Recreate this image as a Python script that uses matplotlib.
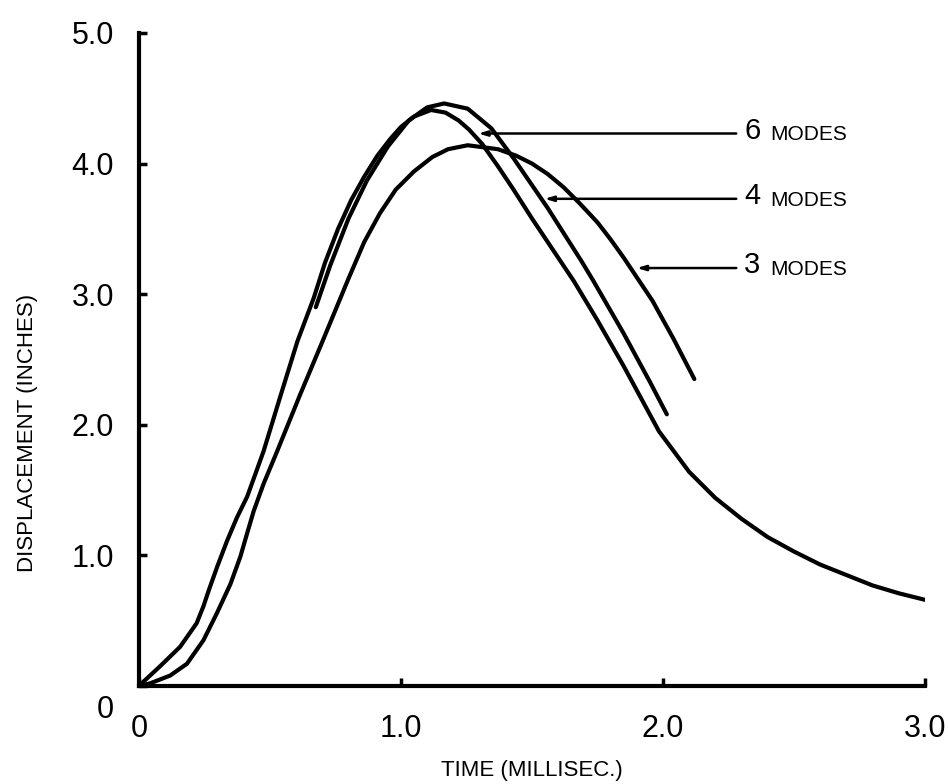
import matplotlib
matplotlib.use("Agg")
import matplotlib.pyplot as plt
import matplotlib.transforms as mtransforms

# --- data ---
# 6 modes (runs out to 3.0 ms)
t_6 = [0, 0.01, 0.08, 0.157, 0.22, 0.246, 0.266, 0.298, 0.336, 0.374, 0.413, 0.451,
       0.476, 0.54, 0.605, 0.667, 0.71, 0.76, 0.81, 0.86, 0.91, 0.96, 1.00, 1.05,
       1.115, 1.17, 1.22, 1.26, 1.31, 1.37, 1.43, 1.50, 1.56, 1.66, 1.75, 1.85,
       1.985, 2.1, 2.2, 2.3, 2.4, 2.5, 2.6, 2.7, 2.8, 2.9, 3.0]
d_6 = [0, 0.02, 0.15, 0.30, 0.48, 0.61, 0.73, 0.91, 1.11, 1.29, 1.45, 1.66,
       1.80, 2.22, 2.64, 2.97, 3.24, 3.50, 3.72, 3.90, 4.06, 4.19, 4.28, 4.36,
       4.41, 4.39, 4.33, 4.26, 4.15, 3.98, 3.80, 3.58, 3.40, 3.10, 2.80, 2.45,
       1.95, 1.64, 1.44, 1.28, 1.14, 1.03, 0.93, 0.85, 0.77, 0.71, 0.66]

# 4 modes (starts part way up)
t_4 = [0.675, 0.73, 0.80, 0.87, 0.95, 1.03, 1.10, 1.165, 1.255, 1.345, 1.43, 1.56,
       1.69, 1.735, 1.85, 1.95, 2.015]
d_4 = [2.90, 3.22, 3.58, 3.87, 4.13, 4.33, 4.43, 4.46, 4.42, 4.27, 4.04, 3.66,
       3.25, 3.10, 2.70, 2.33, 2.08]

# 3 modes
t_3 = [0, 0.042, 0.119, 0.183, 0.246, 0.298, 0.349, 0.387, 0.413, 0.438, 0.476, 0.528,
       0.615, 0.705, 0.80, 0.86, 0.92, 0.98, 1.05, 1.12, 1.18, 1.255, 1.37, 1.44,
       1.50, 1.56, 1.62, 1.68, 1.75, 1.80, 1.85, 1.91, 1.96, 2.04, 2.12]
d_3 = [0, 0.02, 0.08, 0.17, 0.35, 0.56, 0.78, 0.99, 1.17, 1.34, 1.55, 1.80,
       2.23, 2.66, 3.12, 3.40, 3.62, 3.80, 3.94, 4.05, 4.11, 4.14, 4.11, 4.06,
       4.00, 3.92, 3.82, 3.70, 3.55, 3.42, 3.28, 3.10, 2.95, 2.66, 2.35]

# callouts: label, arrow tip (t, d), where the label starts
mode_labels = ['6', '4', '3']
tip_t = [1.295, 1.548, 1.90]
tip_d = [4.23, 3.73, 3.20]
label_t = 2.28

xticks = [0, 1.0, 2.0, 3.0]
xtick_labels = ['0', '1.0', '2.0', '3.0']
yticks = [0, 1.0, 2.0, 3.0, 4.0, 5.0]
ytick_labels = ['0', '1.0', '2.0', '3.0', '4.0', '5.0']

# --- style ---
plt.rcParams['font.family'] = ['Liberation Sans', 'DejaVu Sans']

fig = plt.figure(figsize=(9.48, 7.84), dpi=100)
ax = fig.add_axes([0.1466, 0.125, 0.829, 0.833])

for t, d in [(t_6, d_6), (t_4, d_4), (t_3, d_3)]:
    ax.plot(t, d, color='black', lw=3.0, solid_capstyle='round', solid_joinstyle='round')

# callout arrows and text
for lab, tt, dd in zip(mode_labels, tip_t, tip_d):
    ax.annotate('', xy=(tt, dd), xytext=(label_t, dd),
                arrowprops=dict(arrowstyle='-|>,head_length=0.5,head_width=0.15',
                                color='black', lw=1.8, shrinkA=0, shrinkB=0))
    ax.text(label_t + 0.03, dd + 0.02, lab, fontsize=21, va='center', ha='left')
    ax.text(label_t + 0.13, dd - 0.01, 'MODES', fontsize=15, va='center', ha='left')

ax.set_xlim(0, 3.0)
ax.set_ylim(0, 5.0)
for side in ['top', 'right']:
    ax.spines[side].set_visible(False)
for side in ['left', 'bottom']:
    ax.spines[side].set_linewidth(3.0)

ax.set_xticks(xticks)
ax.set_xticklabels(xtick_labels)
ax.set_yticks(yticks)
ax.set_yticklabels(ytick_labels)
ax.tick_params(direction='in', length=6, width=2.5, labelsize=22)
ax.tick_params(axis='x', pad=20)
ax.tick_params(axis='y', pad=18)

# the zero on the y axis sits a bit below the axis line
ylab0 = ax.get_yticklabels()[0]
ylab0.set_transform(ylab0.get_transform() +
                    mtransforms.ScaledTranslation(0, -0.2, fig.dpi_scale_trans))

ax.set_xlabel('TIME (MILLISEC.)', fontsize=16, labelpad=12)
ax.set_ylabel('DISPLACEMENT (INCHES)', fontsize=16)
ax.yaxis.set_label_coords(-0.128, 1.94 / 5.0)

fig.savefig('out.png', dpi=100)
